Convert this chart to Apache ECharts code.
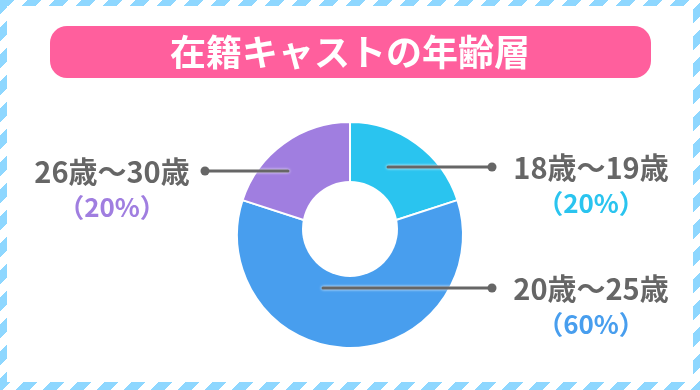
<!DOCTYPE html>
<html><head><meta charset="utf-8">
<script src="https://cdn.jsdelivr.net/npm/echarts@6/dist/echarts.min.js"></script>
<style>html,body{margin:0;padding:0;background:#fff}#c{width:700px;height:390px}</style>
</head><body><div id="c"></div>
<script>
const titleText = '在籍キャストの年齢層';
const categories = ['18歳～19歳', '20歳～25歳', '26歳～30歳'];
const values = [20, 60, 20];

const sliceColors = ['#2AC4EF', '#489EEE', '#A07EE0'];
// label placement (layout only)
const labelSpots = [
  { lx: 591, ly: 185, from: [388, 167], to: [492, 167] },
  { lx: 591, ly: 306, from: [323, 288], to: [492, 288] },
  { lx: 112, ly: 189, from: [288, 171], to: [205, 171] }
];

const total = values.reduce((a, b) => a + b, 0);
const FONT = '"Noto Sans CJK JP", "Noto Sans", sans-serif';

// striped pattern for frame
function stripeCanvas() {
  const n = 27, c = document.createElement('canvas');
  c.width = n; c.height = n;
  const ctx = c.getContext('2d');
  const img = ctx.createImageData(n, n);
  for (let y = 0; y < n; y++) for (let x = 0; x < n; x++) {
    const i = (y * n + x) * 4;
    const on = ((x + y) % n) < 14;
    img.data[i] = on ? 0x8E : 255;
    img.data[i + 1] = on ? 0xD7 : 255;
    img.data[i + 2] = on ? 0xFF : 255;
    img.data[i + 3] = 255;
  }
  ctx.putImageData(img, 0, 0);
  return c;
}
const pat = { image: stripeCanvas(), repeat: 'repeat' };

const chart = echarts.init(document.getElementById('c'), null, { renderer: 'canvas' });

const sliceData = categories.map((name, i) => ({
  name, value: values[i], itemStyle: { color: sliceColors[i] }
}));
const labelData = categories.map((name, i) => ({
  name, value: values[i],
  label: {
    formatter: '{n|' + name + '}\n{p' + i + '|（' + Math.round(values[i] / total * 100) + '%）}'
  }
}));

const rich = {
  n: { fontFamily: FONT, fontSize: 29, fontWeight: 'bold', color: '#666666', lineHeight: 36, align: 'center' }
};
sliceColors.forEach((c, i) => {
  rich['p' + i] = { fontFamily: FONT, fontSize: 26, fontWeight: 'bold', color: c, lineHeight: 34, align: 'center' };
});

const graphics = [
  { type: 'rect', shape: { x: 0, y: 0, width: 700, height: 6 }, style: { fill: pat }, z: 1 },
  { type: 'rect', shape: { x: 0, y: 382, width: 700, height: 8 }, style: { fill: pat }, z: 1 },
  { type: 'rect', shape: { x: 0, y: 0, width: 7, height: 390 }, style: { fill: pat }, z: 1 },
  { type: 'rect', shape: { x: 693, y: 0, width: 7, height: 390 }, style: { fill: pat }, z: 1 },
  { type: 'rect', shape: { x: 50, y: 26, width: 601, height: 52, r: 17 }, style: { fill: '#FF5F9D' }, z: 1 },
  { type: 'text', x: 350, y: 52, style: { text: titleText, fill: '#fff', font: 'bold 36px ' + FONT, textAlign: 'center', textVerticalAlign: 'middle' }, z: 2 },
  { type: 'circle', shape: { cx: 350, cy: 229, r: 48 }, style: { fill: '#fff' }, z: 8 }
];
labelSpots.forEach(s => {
  graphics.push({ type: 'circle', shape: { cx: s.to[0], cy: s.to[1], r: 4.5 }, style: { fill: '#666' }, z: 100 });
});

chart.setOption({
  animation: false,
  backgroundColor: '#fff',
  graphic: graphics,
  series: [{
    type: 'pie',
    center: [350, 235],
    radius: [0, 113],
    startAngle: 90,
    clockwise: true,
    z: 5,
    silent: true,
    itemStyle: { borderColor: '#fff', borderWidth: 2 },
    label: { show: false },
    labelLine: { show: false },
    data: sliceData
  }, {
    type: 'pie',
    center: [350, 235],
    radius: [0, 113],
    startAngle: 90,
    clockwise: true,
    z: 20,
    silent: true,
    itemStyle: { color: 'rgba(0,0,0,0)', borderWidth: 0 },
    label: { show: true, position: 'outside', rich: rich, align: 'center' },
    labelLine: {
      show: true,
      lineStyle: { color: '#666', width: 3, cap: 'round', shadowColor: '#fff', shadowBlur: 3 }
    },
    labelLayout: function (p) {
      const s = labelSpots[p.dataIndex];
      return {
        x: s.lx, y: s.ly, align: 'center', verticalAlign: 'middle',
        labelLinePoints: [s.from, s.to, s.to]
      };
    },
    data: labelData
  }]
});
</script></body></html>
